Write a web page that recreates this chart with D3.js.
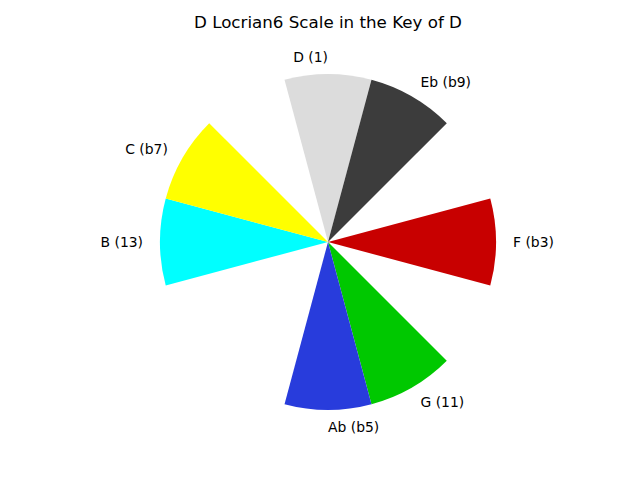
<!DOCTYPE html>
<html><head><meta charset="utf-8">
<script src="https://cdn.jsdelivr.net/npm/d3@7"></script>
<style>body{margin:0;background:#fff}svg{display:block}</style>
</head><body>
<script>
const notes = ["D (1)","Eb (b9)","F (b3)","G (11)","Ab (b5)","B (13)","C (b7)"];
const semitones = [0,1,3,5,6,9,10];
const colors = ["#dcdcdc","#3c3c3c","#c80000","#00c800","#283cdc","#00ffff","#ffff00"];
const values = [1,1,1,1,1,1,1];
const title = "D Locrian6 Scale in the Key of D";

const W=640,H=480,cx=328,cy=242;
const svg=d3.select("body").append("svg").attr("width",W).attr("height",H);
const ang=d3.scaleLinear().domain([0,12]).range([0,2*Math.PI]);
const rad=d3.scaleLinear().domain([0,1]).range([0,168]);
const g=svg.append("g").attr("transform",`translate(${cx},${cy})`);
const arc=d3.arc().innerRadius(0)
  .outerRadius(d=>rad(d.v))
  .startAngle(d=>ang(d.s-0.5)).endAngle(d=>ang(d.s+0.5));
const data=notes.map((n,i)=>({n,s:semitones[i],c:colors[i],v:values[i]}));
g.selectAll("path").data(data).join("path").attr("d",arc).attr("fill",d=>d.c);
const lr=185;
g.selectAll("text").data(data).join("text")
  .attr("x",d=>lr*Math.sin(ang(d.s)))
  .attr("y",d=>-lr*Math.cos(ang(d.s)))
  .attr("dy","0.35em")
  .attr("text-anchor",d=>{const x=Math.sin(ang(d.s));return (d.s===0)?"end":(d.s===6?"start":(x>=0?"start":"end"));})
  .attr("font-family","DejaVu Sans").attr("font-size","13.9px").attr("fill","#000")
  .text(d=>d.n);
svg.append("text").attr("x",328).attr("y",28).attr("text-anchor","middle")
  .attr("font-family","DejaVu Sans").attr("font-size","16.7px").text(title);
</script>
</body></html>
